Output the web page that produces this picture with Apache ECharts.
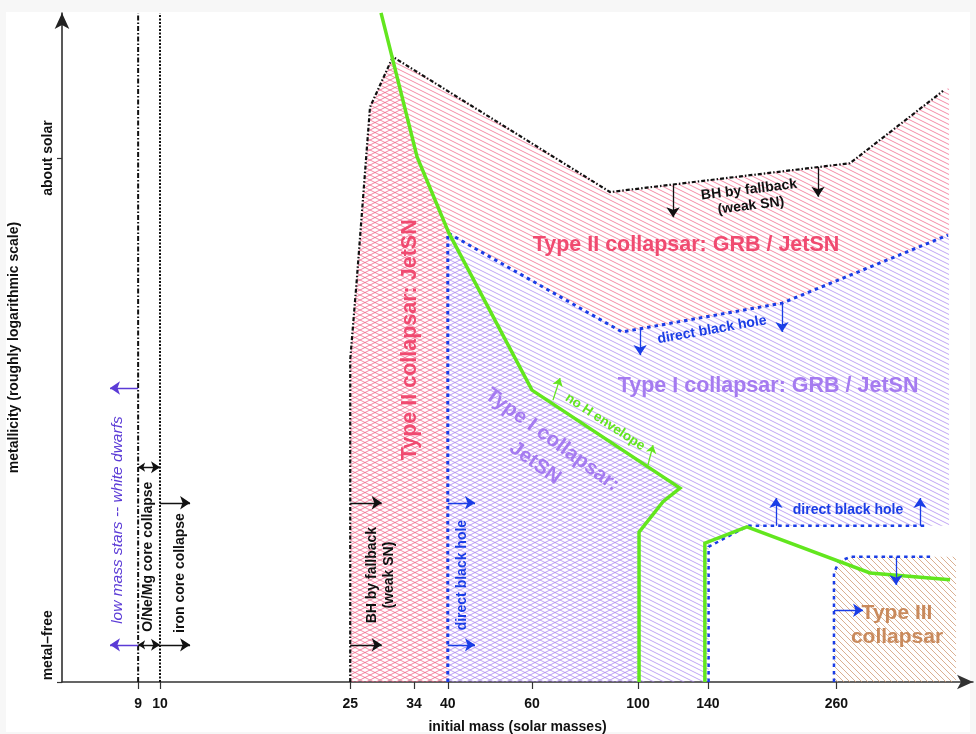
<!DOCTYPE html>
<html>
<head>
<meta charset="utf-8">
<script src="https://cdn.jsdelivr.net/npm/echarts@6/dist/echarts.min.js"></script>
<style>
html, body { margin: 0; padding: 0; background: #ffffff; }
#chart { width: 976px; height: 734px; }
</style>
</head>
<body>
<div id="chart"></div>
<script>
// ---- axis ticks -------------------------------------------------------
// initial mass in solar masses (the axis is logarithmic in mass)
const massTicks = [9, 10, 25, 34, 40, 60, 100, 140, 260];
// metallicity index: 0 = metal-free, 100 = about solar
const zTicks = [0, 100];
const zLabelAt = [7, 100];
const zLabelText = ['metal\u2013free', 'about solar'];

// ---- boundaries, points are [mass, metallicity index] -----------------
const fallbackEdge = [[25, 0], [25, 61.5], [25.8, 76.7], [27.5, 109.7], [30.7, 119.3], [87.4, 93.5], [277.6, 99.0], [434.6, 112.8]];
const directBHEdge = [[40, 0], [40, 85.7], [92.6, 66.8], [200.1, 72.3], [445.2, 85.3]];
const hEnvelopeEdge = [[29.0, 127.7], [34.5, 100.2], [40.2, 85.7], [60, 55.7], [122.4, 37.0], [112.8, 34.4], [100.5, 28.6], [100.5, 0]];
const pairInstabilityEdge = [[138, 0], [138, 26.5], [169, 29.6], [305.8, 20.8], [449.6, 19.5]];
const directBHHighEdge = [[140.5, 0], [140.5, 25.8], [169.9, 29.8], [404.4, 29.8]];
const typeIIIEdge = [[257, 0], [257, 20.8], [263, 22.9], [277.6, 23.9], [412.3, 23.9]];
const whiteDwarfLimit = [[9, 0], [9, 127.6]];
const ironCoreLimit = [[10, 0], [10, 127.6]];

// ---- filled regions ---------------------------------------------------
const typeIIRegion = [[25, 0], [25, 61.5], [25.8, 76.7], [27.5, 109.7], [30.7, 119.3], [87.4, 93.5], [277.6, 99.0], [434.6, 112.8], [447.4, 113.4], [447.4, 85.5], [445.2, 85.3], [200.1, 72.3], [92.6, 66.8], [40, 85.7], [40, 0]];
const typeIRegion = [[40, 0], [40, 85.7], [92.6, 66.8], [200.1, 72.3], [445.2, 85.3], [447.4, 85.5], [447.4, 29.8], [169.9, 29.8], [140.5, 25.8], [140.5, 0]];
const typeIIJetRegion = [[25, 0], [25, 61.5], [25.8, 76.7], [27.5, 109.7], [30.7, 119.3], [34.5, 100.2], [40, 85.7], [40, 0]];
const typeIJetRegion = [[40, 0], [40, 85.7], [60, 55.7], [122.4, 37.0], [112.8, 34.4], [100.5, 28.6], [100.5, 0]];
const typeIIIRegion = [[257, 0], [257, 20.8], [263, 22.9], [277.6, 23.9], [462.7, 23.9], [462.7, 0]];

// ---- arrows, [from, to] -----------------------------------------------
const blackArrows = [
  [[118.4, 95.0], [118.4, 88.7]], [[238, 98.3], [238, 92.6]],
  [[25, 34.2], [29.1, 34.2]], [[25, 7.1], [29.1, 7.1]],
  [[10, 34.2], [11.56, 34.2]], [[10, 7.1], [11.56, 7.1]]
];
const blackDoubleArrows = [[[9, 41.0], [10, 41.0]], [[9, 7.1], [10, 7.1]]];
const blueArrows = [
  [[101, 67.4], [101, 62.4]], [[200.1, 72.3], [200.1, 66.8]],
  [[40, 34.2], [45.6, 34.2]], [[40, 7.1], [45.6, 7.1]],
  [[194.4, 29.8], [194.4, 35.1]], [[389, 29.8], [389, 35.1]],
  [[346.5, 23.9], [346.5, 18.5]], [[257, 13.7], [295.6, 13.7]]
];
const violetArrows = [[[9, 56.1], [7.86, 56.1]], [[9, 7.1], [7.86, 7.1]]];
const greenArrows = [[[66.4, 53.8], [68.7, 58.0]], [[104.9, 41.4], [107.5, 45.2]]];

// ---- colours ----------------------------------------------------------
const RED = '#f04a70', PURPLE = '#a57bf0', BLUE = '#1a3de6', GREEN = '#62e61e',
      BROWN = '#c98a5c', VIOLET = '#5b3bd6', INK = '#111111';
const FONT = '"Liberation Sans", Arial, Helvetica, sans-serif';

// ---- annotations: text, anchor [mass, metallicity], rotation (deg) ----
const notes = [
  { text: 'Type II collapsar: GRB / JetSN', at: [126.0, 83.4], rot: 0, color: RED, font: 'bold 21.5px' },
  { text: 'Type I collapsar: GRB / JetSN', at: [187.1, 56.5], rot: 0, color: PURPLE, font: 'bold 21.5px' },
  { text: 'Type II collapsar: JetSN', at: [33.3, 65.3], rot: 90, color: RED, font: 'bold 21.5px' },
  { text: 'Type I collapsar:', at: [66.1, 46.2], rot: -36, color: PURPLE, font: 'bold 20.5px' },
  { text: 'JetSN', at: [60.9, 41.8], rot: -36, color: PURPLE, font: 'bold 20.5px' },
  { text: 'Type III\ncollapsar', at: [348.2, 10.8], rot: 0, color: BROWN, font: 'bold 21px', lh: 24 },
  { text: 'direct black hole', at: [142.8, 67.2], rot: 10, color: BLUE, font: 'bold 14px' },
  { text: 'direct black hole', at: [275, 32.8], rot: 0, color: BLUE, font: 'bold 14px' },
  { text: 'direct black hole', at: [42.8, 20.4], rot: 90, color: BLUE, font: 'bold 14px' },
  { text: 'BH by fallback\n(weak SN)', at: [171.5, 92.4], rot: 7, color: INK, font: 'bold 14px', lh: 16 },
  { text: 'BH by fallback\n(weak SN)', at: [29.0, 20.4], rot: 90, color: INK, font: 'bold 14px', lh: 17 },
  { text: 'no H envelope', at: [85.3, 49.6], rot: -33.5, color: GREEN, font: 'bold 13.5px' },
  { text: 'low mass stars -- white dwarfs', at: [8.17, 30.9], rot: 90, color: VIOLET, font: 'italic 15.5px' },
  { text: 'O/Ne/Mg core collapse', at: [9.44, 23.9], rot: 90, color: INK, font: 'bold 14px' },
  { text: 'iron core collapse', at: [11.01, 20.8], rot: 90, color: INK, font: 'bold 14px' }
];

// ---- helpers ----------------------------------------------------------
const lg = (p) => [Math.log10(p[0]), p[1]];

function hatch(color, w, h, down, up) {
  const c = document.createElement('canvas');
  c.width = w; c.height = h;
  const g = c.getContext('2d');
  g.strokeStyle = color;
  g.lineWidth = 1;
  for (let k = -1; k <= 1; k++) {
    if (down) { g.beginPath(); g.moveTo(0, k * h); g.lineTo(w, k * h + h); g.stroke(); }
    if (up) { g.beginPath(); g.moveTo(0, k * h + h); g.lineTo(w, k * h); g.stroke(); }
  }
  return { type: 'pattern', image: c, repeat: 'repeat' };
}

const redHatch = hatch('rgba(240,90,130,0.7)', 10, 5, true, false);
const redCross = hatch('rgba(240,90,130,0.75)', 10, 5, false, true);
const purpleHatch = hatch('rgba(165,125,240,0.7)', 10, 5, true, false);
const purpleCross = hatch('rgba(165,125,240,0.75)', 10, 5, false, true);
const brownHatch = hatch('rgba(205,150,110,0.75)', 6, 6, true, false);

function region(name, poly, fill, z) {
  return {
    type: 'custom', name, coordinateSystem: 'cartesian2d', silent: true, z,
    data: [lg(poly[0])],
    renderItem: (params, api) => ({
      type: 'polygon',
      shape: { points: poly.map(p => api.coord(lg(p))) },
      style: { fill: fill, stroke: null }
    })
  };
}

function edge(name, pts, color, width, dash, z) {
  return {
    type: 'line', name, data: pts.map(lg), showSymbol: false, silent: true,
    clip: false, z, animation: false,
    lineStyle: { color, width, type: dash, cap: 'butt', join: 'miter' }
  };
}

function arrows(name, list, color, width, both, size) {
  return {
    type: 'lines', name, coordinateSystem: 'cartesian2d', silent: true, z: 6,
    symbol: both ? ['arrow', 'arrow'] : ['none', 'arrow'],
    symbolSize: size,
    lineStyle: { color, width, opacity: 1, curveness: 0 },
    data: list.map(a => ({ coords: a.map(lg) }))
  };
}

const chart = echarts.init(document.getElementById('chart'), null, { renderer: 'canvas' });

chart.setOption({
  animation: false,
  backgroundColor: '#f7f7f7',
  textStyle: { fontFamily: FONT },
  graphic: [{
    type: 'rect', z: -100, silent: true,
    shape: { x: 6, y: 12, width: 964, height: 720 },
    style: { fill: '#ffffff' }
  }],
  grid: { left: 62, right: 3, top: 13, bottom: 52, containLabel: false, outerBoundsMode: 'none' },
  xAxis: {
    type: 'value',
    min: 0.79498, max: 2.7008,
    name: 'initial mass (solar masses)',
    nameLocation: 'middle', nameGap: 38,
    nameTextStyle: { fontFamily: FONT, fontWeight: 'bold', fontSize: 14, color: INK },
    axisLine: { show: true, symbol: ['none', 'arrow'], symbolSize: [11, 16], lineStyle: { color: '#333', width: 1.5 } },
    axisTick: { show: true, customValues: massTicks.map(Math.log10), length: 7, lineStyle: { color: '#333', width: 1.2 } },
    axisLabel: {
      customValues: massTicks.map(Math.log10), margin: 15,
      fontFamily: FONT, fontWeight: 'bold', fontSize: 14, color: INK,
      formatter: (v) => String(Math.round(Math.pow(10, v)))
    },
    splitLine: { show: false }
  },
  yAxis: {
    type: 'value',
    min: 0, max: 127.67,
    name: 'metallicity (roughly logarithmic scale)',
    nameLocation: 'middle', nameGap: 41, nameRotate: 90,
    nameTextStyle: { fontFamily: FONT, fontWeight: 'bold', fontSize: 14, color: INK },
    axisLine: { show: true, symbol: ['none', 'arrow'], symbolSize: [11, 16], lineStyle: { color: '#222', width: 1.5 } },
    axisTick: { show: true, customValues: zTicks, length: 5, lineStyle: { color: '#333', width: 1.2 } },
    axisLabel: {
      customValues: zLabelAt, rotate: 90, margin: 7,
      fontFamily: FONT, fontWeight: 'bold', fontSize: 14, color: INK,
      formatter: (v) => {
        let best = 0;
        zLabelAt.forEach((p, i) => { if (Math.abs(p - v) < Math.abs(zLabelAt[best] - v)) best = i; });
        return zLabelText[best];
      }
    },
    splitLine: { show: false }
  },
  series: [
    region('Type II collapsar', typeIIRegion, redHatch, 1),
    region('Type I collapsar', typeIRegion, purpleHatch, 1),
    region('Type III collapsar', typeIIIRegion, brownHatch, 1),
    region('Type II JetSN', typeIIJetRegion, redCross, 2),
    region('Type I JetSN', typeIJetRegion, purpleCross, 2),

    edge('white dwarf limit', whiteDwarfLimit, '#111', 2, [5, 2, 1.5, 2], 3),
    edge('iron core limit', ironCoreLimit, '#111', 2, [2, 1.5], 3),
    edge('BH by fallback', fallbackEdge, '#111', 2.2, [4, 2, 1.5, 2], 4),
    edge('direct black hole', directBHEdge, BLUE, 3, [3.5, 4], 4),
    edge('direct black hole (high mass)', directBHHighEdge, BLUE, 2.5, [3.5, 4], 4),
    edge('type III boundary', typeIIIEdge, BLUE, 2.5, [3.5, 4], 4),
    edge('no H envelope', hEnvelopeEdge, GREEN, 3.5, 'solid', 5),
    edge('pair instability', pairInstabilityEdge, GREEN, 3.5, 'solid', 5),

    arrows('fallback arrows', blackArrows, '#111', 1.3, false, [7, 10]),
    arrows('O/Ne/Mg arrows', blackDoubleArrows, '#111', 1.3, true, [7, 9]),
    arrows('direct BH arrows', blueArrows, BLUE, 1.3, false, [7, 10]),
    arrows('white dwarf arrows', violetArrows, VIOLET, 1.3, false, [7, 10]),
    arrows('no H arrows', greenArrows, GREEN, 1.3, false, [6, 8]),

    {
      type: 'custom', name: 'annotations', coordinateSystem: 'cartesian2d', silent: true, z: 10,
      data: notes.map(n => lg(n.at)),
      renderItem: (params, api) => {
        const n = notes[params.dataIndex];
        const p = api.coord(lg(n.at));
        return {
          type: 'text', x: p[0], y: p[1], rotation: n.rot * Math.PI / 180,
          style: {
            text: n.text, fill: n.color,
            font: n.font + ' ' + FONT,
            align: 'center', verticalAlign: 'middle',
            lineHeight: n.lh || undefined
          }
        };
      }
    }
  ]
});
</script>
</body>
</html>
